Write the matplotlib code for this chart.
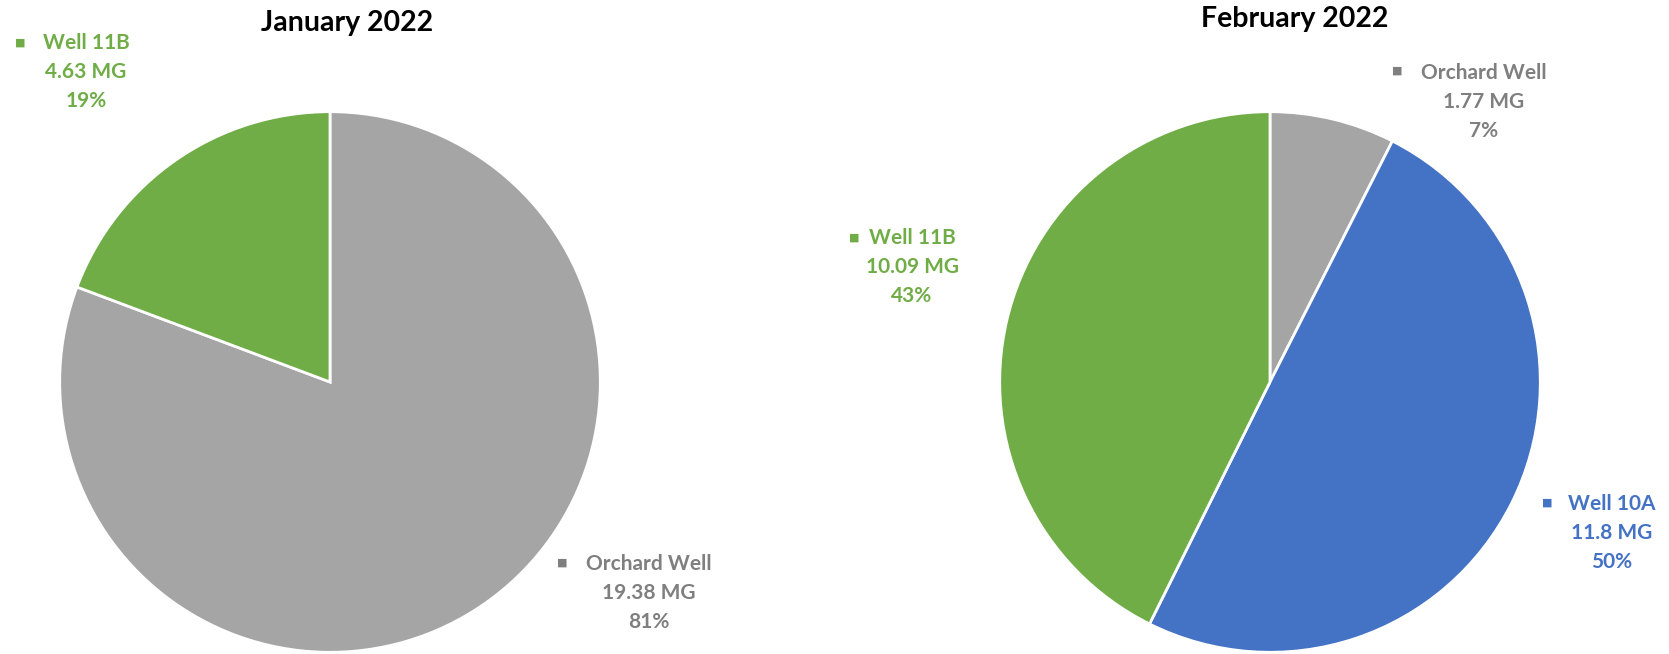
"""Two pie charts of monthly well production, January and February 2022."""

import matplotlib

matplotlib.use("Agg")
import matplotlib.pyplot as plt

W, H = 1669, 654

jan_names = ["Orchard Well", "Well 11B"]
jan_values = [19.38, 4.63]
jan_colors = ["#A5A5A5", "#70AD47"]

feb_names = ["Orchard Well", "Well 10A", "Well 11B"]
feb_values = [1.77, 11.8, 10.09]
feb_colors = ["#A5A5A5", "#4472C4", "#70AD47"]

text_colors = {"Orchard Well": "#7F7F7F", "Well 11B": "#70AD47", "Well 10A": "#4472C4"}

# label layout in pixels (x, y from top): block centre and marker centre
jan_label_pos = {"Orchard Well": ((649, 593), (562, 563)), "Well 11B": ((86, 72), (20, 43))}
feb_label_pos = {
    "Orchard Well": ((1484, 102), (1397, 71)),
    "Well 10A": ((1612, 533), (1547, 503)),
    "Well 11B": ((912, 267), (854, 238)),
}

FONT = ["Lato", "DejaVu Sans"]


def fx(x):
    return x / W


def fy(y):
    return 1 - y / H


def draw_pie(fig, cx, cy, r, title, title_xy, names, values, colors, label_pos):
    ax = fig.add_axes([fx(cx - r), fy(cy + r), 2 * r / W, 2 * r / H])
    ax.pie(values, colors=colors, startangle=90, counterclock=False,
           wedgeprops=dict(edgecolor="white", linewidth=2))
    ax.set_xlim(-1.01, 1.01)
    ax.set_ylim(-1.01, 1.01)
    ax.set_aspect("equal")
    ax.axis("off")

    fig.text(fx(title_xy[0]), fy(title_xy[1]), title, ha="center", va="center",
             fontsize=20.5, fontweight="bold", family=FONT, color="black")

    total = sum(values)
    for name, val in zip(names, values):
        pct = round(val / total * 100)
        label = f"{name}\n{val:g} MG\n{pct}%"
        (tx, ty), (mx, my) = label_pos[name]
        c = text_colors[name]
        fig.text(fx(tx), fy(ty), label, ha="center", va="center", ma="center",
                 fontsize=15, fontweight="bold", family=FONT, color=c, linespacing=1.55)
        fig.text(fx(mx), fy(my), "■", ha="center", va="center", fontsize=8,
                 family=["DejaVu Sans"], color=c)


def main():
    fig = plt.figure(figsize=(W / 100, H / 100), dpi=100)
    draw_pie(fig, 330, 382, 273, "January 2022", (347, 23),
             jan_names, jan_values, jan_colors, jan_label_pos)
    draw_pie(fig, 1270, 382, 273, "February 2022", (1295, 19),
             feb_names, feb_values, feb_colors, feb_label_pos)
    fig.savefig("out.png", dpi=100)


if __name__ == "__main__":
    main()
